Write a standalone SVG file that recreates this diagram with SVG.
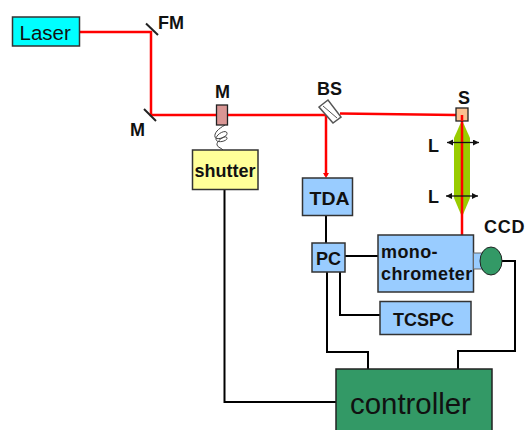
<svg xmlns="http://www.w3.org/2000/svg" width="525" height="430" viewBox="0 0 525 430">
<style>
text{font-family:"Liberation Sans",Arial,sans-serif;fill:#111}
.b{font-weight:bold;font-size:18px}
.box{stroke:#333;stroke-width:1.5}
.blue{fill:#99ccff}
.w{fill:none;stroke:#000;stroke-width:2}
.r{fill:none;stroke:#ff0000;stroke-width:2.500}
.m{stroke:#222;stroke-width:2}
.a{stroke:#111;stroke-width:1.300;fill:none;marker-start:url(#ah);marker-end:url(#ah)}
</style>
<defs>
<marker id="ah" markerWidth="7" markerHeight="7" refX="6" refY="3" orient="auto-start-reverse" markerUnits="userSpaceOnUse"><path d="M0 0L6 3L0 6z" fill="#111"/></marker>
<marker id="rh" markerWidth="6" markerHeight="6" refX="3" refY="3" orient="auto" markerUnits="userSpaceOnUse"><path d="M0 0L5 3L0 6z" fill="#f00"/></marker>
</defs>
<rect width="525" height="430" fill="#fff"/>
<g id="lens"><path d="M462 120L470 138V198L462 217L454 198V138Z" fill="#99cc00"/></g>
<g id="connectors">
<path class="r" d="M80 32H151V115H326"/>
<path class="r" d="M326 115V176" marker-end="url(#rh)"/>
<path class="r" d="M340 113.500L456 115"/>
<path class="r" d="M462 115V235"/>
<path class="w" d="M326 215V243"/>
<path class="w" d="M345 256H378"/>
<path class="w" d="M327 272V352H368V369"/>
<path class="w" d="M340 272V315H380"/>
<path class="w" d="M502 261H515V351H458V369"/>
<path class="w" d="M224.500 190V402H336"/>
<path d="M225 125C218 129 214 133 215 137C216 141 228 137 227 133C226 129 216 134 216 139C216 144 228 141 227 138C226 134 216 141 217 145C218 148 222 148 223 150" fill="none" stroke="#444" stroke-width="1"/>
<path class="a" d="M447 142.500H479"/>
<path class="a" d="M446 196H478"/>
</g>
<g id="laser"><rect class="box" x="12.500" y="17" width="67" height="29" fill="#00ffff"/><text x="19.500" y="40" font-size="20.500">Laser</text></g>
<g id="fm"><line class="m" x1="146" y1="23.500" x2="158" y2="35"/><text class="b" x="158" y="29">FM</text></g>
<g id="m1"><line class="m" x1="144" y1="109" x2="156" y2="121"/><text class="b" x="130" y="136">M</text></g>
<g id="m2"><rect x="216.500" y="105" width="11" height="20" fill="#d99694" stroke="#222" stroke-width="1.300"/><text class="b" x="215" y="98">M</text></g>
<g id="shutter"><rect class="box" x="192.500" y="150" width="65.500" height="39.500" fill="#ffff99"/><text class="b" x="194.500" y="177">shutter</text></g>
<g id="bs"><polygon points="319,107 328,100 341,117 333,123" fill="#fff" stroke="#555" stroke-width="1.500"/><line x1="323" y1="106" x2="337" y2="118" stroke="#555"/><text class="b" x="317" y="95">BS</text></g>
<g id="s"><rect x="456" y="108" width="12" height="13" fill="#fac090" stroke="#222" stroke-width="1.300"/><path d="M462 115V121" stroke="#f00" stroke-width="2.500"/><text class="b" x="458" y="104">S</text></g>
<g id="l1"><text class="b" x="428" y="152">L</text></g>
<g id="l2"><text class="b" x="428" y="203">L</text></g>
<g id="tda"><rect class="box blue" x="302.500" y="178" width="50" height="37.500"/><text class="b" x="309.500" y="205" textLength="40" lengthAdjust="spacingAndGlyphs">TDA</text></g>
<g id="pc"><rect class="box blue" x="312" y="243" width="33" height="29"/><text class="b" x="316" y="265">PC</text></g>
<g id="mono"><rect class="box blue" x="378" y="235" width="95.500" height="57"/><text class="b" x="381" y="258" letter-spacing="0.400">mono-</text><text class="b" x="381" y="280" letter-spacing="0.400">chrometer</text></g>
<g id="ccd"><rect x="473.500" y="253" width="10" height="16" fill="#99ccff" stroke="#666"/><ellipse cx="491" cy="261" rx="11" ry="14" fill="#339966" stroke="#222"/><text class="b" x="484" y="233" letter-spacing="0.800">CCD</text></g>
<g id="tcspc"><rect class="box blue" x="380" y="301.500" width="91" height="33"/><text class="b" x="393" y="326">TCSPC</text></g>
<g id="controller"><rect x="336" y="369" width="156" height="62" fill="#339966" stroke="#222" stroke-width="1.500"/><text x="350" y="414" font-size="29.400">controller</text></g>
</svg>
